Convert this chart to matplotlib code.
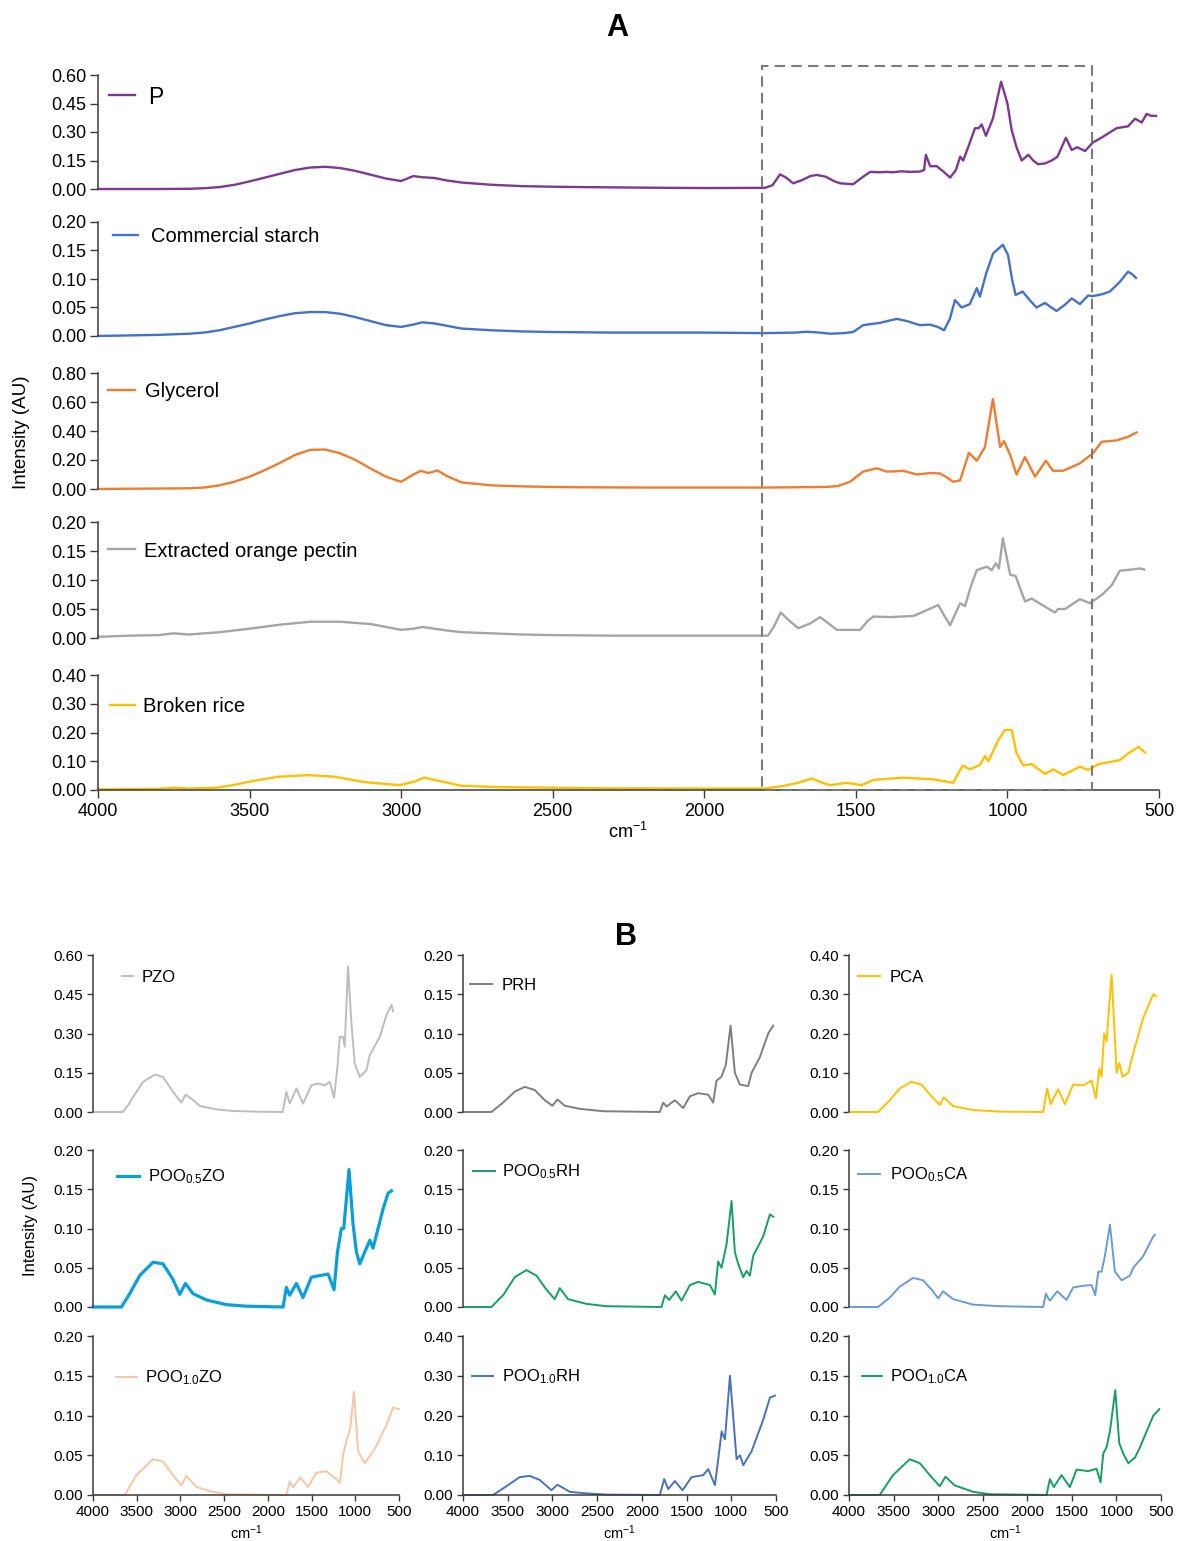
import matplotlib
matplotlib.use("Agg")
import matplotlib.pyplot as plt
from matplotlib.lines import Line2D
from matplotlib.patches import Rectangle
import numpy as np

plt.rcParams['font.family'] = ['Liberation Sans', 'DejaVu Sans']
plt.rcParams['mathtext.fontset'] = 'custom'
plt.rcParams['mathtext.rm'] = 'Liberation Sans'
plt.rcParams['mathtext.default'] = 'regular'

# ---------------- data: (wavenumber cm-1, intensity AU) ----------------
P = [(4000,0.0),(3900,0.0),(3800,0.0),(3700,0.001),(3650,0.004),(3600,0.01),(3550,0.022),(3500,0.04),
     (3450,0.06),(3400,0.08),(3350,0.1),(3300,0.113),(3250,0.117),(3200,0.11),(3150,0.095),(3100,0.075),
     (3050,0.055),(3000,0.042),(2960,0.068),(2930,0.062),(2890,0.058),(2850,0.045),(2800,0.034),(2700,0.022),
     (2600,0.015),(2500,0.012),(2400,0.01),(2200,0.007),(2000,0.005),(1800,0.006),(1775,0.02),(1750,0.077),
     (1730,0.06),(1707,0.03),(1680,0.045),(1650,0.068),(1629,0.074),(1600,0.065),(1570,0.04),(1552,0.03),
     (1509,0.025),(1480,0.06),(1453,0.09),(1420,0.088),(1400,0.09),(1378,0.088),(1350,0.093),(1320,0.09),
     (1289,0.092),(1275,0.1),(1269,0.18),(1255,0.12),(1233,0.12),(1210,0.09),(1189,0.06),(1170,0.1),
     (1156,0.17),(1146,0.15),(1125,0.24),(1107,0.32),(1095,0.32),(1085,0.34),(1071,0.28),(1048,0.37),
     (1021,0.565),(1000,0.45),(986,0.31),(970,0.22),(953,0.15),(931,0.18),(915,0.15),(899,0.13),(875,0.135),
     (854,0.15),(835,0.17),(807,0.27),(788,0.205),(770,0.22),(744,0.2),(718,0.245),(690,0.27),(660,0.3),
     (640,0.32),(602,0.33),(579,0.37),(557,0.35),(541,0.395),(525,0.385),(510,0.385)]
STARCH = [(4000,0.0),(3900,0.001),(3800,0.002),(3700,0.004),(3650,0.006),(3600,0.01),(3550,0.016),(3500,0.022),
     (3450,0.029),(3400,0.035),(3350,0.04),(3300,0.042),(3250,0.042),(3200,0.039),(3150,0.033),(3100,0.026),
     (3050,0.019),(3000,0.016),(2960,0.02),(2930,0.024),(2890,0.022),(2850,0.018),(2800,0.013),(2700,0.01),
     (2600,0.008),(2500,0.007),(2300,0.006),(2000,0.006),(1800,0.005),(1700,0.006),(1662,0.0075),(1620,0.006),
     (1585,0.004),(1540,0.005),(1509,0.007),(1476,0.019),(1450,0.021),(1420,0.023),(1390,0.027),(1365,0.03),
     (1330,0.026),(1289,0.019),(1255,0.02),(1230,0.016),(1209,0.01),(1190,0.03),(1173,0.063),(1151,0.05),
     (1124,0.056),(1101,0.084),(1091,0.069),(1070,0.11),(1047,0.145),(1015,0.16),(998,0.142),(985,0.1),
     (973,0.072),(950,0.078),(925,0.062),(904,0.05),(876,0.058),(855,0.05),(838,0.044),(810,0.055),(788,0.066),
     (761,0.056),(734,0.071),(718,0.07),(690,0.073),(662,0.078),(629,0.095),(602,0.113),(588,0.108),(576,0.102)]
GLYCEROL = [(4000,0.0),(3900,0.002),(3800,0.003),(3700,0.005),(3650,0.01),(3600,0.025),(3550,0.05),(3500,0.085),
     (3450,0.13),(3400,0.18),(3350,0.235),(3300,0.27),(3250,0.272),(3200,0.245),(3150,0.2),(3100,0.14),
     (3050,0.085),(3000,0.05),(2960,0.1),(2935,0.125),(2910,0.11),(2880,0.128),(2850,0.09),(2800,0.045),
     (2700,0.025),(2600,0.018),(2500,0.014),(2400,0.012),(2200,0.01),(1800,0.01),(1600,0.014),(1560,0.02),
     (1519,0.05),(1476,0.12),(1431,0.143),(1398,0.12),(1370,0.122),(1344,0.126),(1299,0.1),(1255,0.11),
     (1222,0.107),(1200,0.08),(1179,0.05),(1156,0.06),(1127,0.25),(1101,0.195),(1074,0.29),(1048,0.62),
     (1024,0.29),(1011,0.33),(991,0.235),(970,0.1),(942,0.22),(909,0.085),(873,0.195),(850,0.126),(816,0.126),
     (761,0.177),(718,0.246),(689,0.326),(640,0.335),(602,0.36),(574,0.39)]
PECTIN = [(4000,0.002),(3900,0.004),(3800,0.005),(3750,0.008),(3700,0.006),(3600,0.01),(3500,0.016),(3400,0.023),
     (3300,0.028),(3200,0.028),(3100,0.024),(3000,0.014),(2960,0.016),(2930,0.019),(2890,0.016),(2850,0.013),
     (2800,0.01),(2700,0.008),(2600,0.006),(2500,0.005),(2300,0.004),(2000,0.004),(1790,0.004),(1770,0.02),
     (1748,0.044),(1720,0.03),(1690,0.017),(1651,0.025),(1618,0.036),(1590,0.025),(1563,0.014),(1486,0.014),
     (1460,0.03),(1442,0.037),(1387,0.036),(1310,0.038),(1266,0.048),(1228,0.057),(1210,0.04),(1189,0.022),
     (1156,0.06),(1140,0.055),(1120,0.09),(1101,0.117),(1068,0.123),(1052,0.117),(1038,0.129),(1028,0.12),
     (1015,0.172),(991,0.109),(973,0.107),(942,0.063),(920,0.068),(876,0.054),(843,0.044),(833,0.05),(810,0.05),
     (761,0.067),(728,0.06),(689,0.074),(656,0.091),(629,0.116),(590,0.118),(563,0.12),(549,0.118)]
RICE = [(4000,0.002),(3900,0.003),(3800,0.004),(3746,0.008),(3700,0.005),(3608,0.008),(3550,0.018),(3495,0.03),
     (3407,0.046),(3307,0.052),(3219,0.046),(3118,0.027),(3005,0.017),(2960,0.028),(2923,0.043),(2890,0.035),
     (2854,0.027),(2804,0.015),(2678,0.01),(2500,0.008),(2351,0.006),(2000,0.005),(1800,0.005),(1740,0.014),
     (1690,0.025),(1646,0.04),(1610,0.025),(1585,0.017),(1530,0.025),(1481,0.017),(1442,0.035),(1344,0.043),
     (1244,0.037),(1179,0.025),(1148,0.085),(1124,0.072),(1091,0.087),(1074,0.118),(1063,0.1),(1030,0.174),
     (1008,0.209),(986,0.209),(970,0.128),(948,0.085),(920,0.09),(876,0.056),(849,0.072),(816,0.052),
     (761,0.081),(733,0.07),(700,0.09),(629,0.104),(601,0.128),(568,0.15),(546,0.13)]

PZO = [(4000,0.0),(3660,0.0),(3600,0.025),(3542,0.057),(3428,0.115),(3294,0.143),(3199,0.134),(3085,0.077),
     (2989,0.036),(2940,0.066),(2874,0.051),(2779,0.023),(2588,0.01),(2398,0.004),(2100,0.001),(1830,0.0),
     (1788,0.077),(1750,0.032),(1673,0.09),(1598,0.032),(1502,0.102),(1426,0.109),(1349,0.102),(1292,0.115),
     (1243,0.055),(1204,0.172),(1178,0.287),(1140,0.287),(1121,0.25),(1083,0.556),(1044,0.338),(1006,0.185),
     (949,0.134),(872,0.16),(834,0.217),(720,0.287),(644,0.37),(586,0.409),(568,0.385)]
PRH = [(4000,0.0),(3682,0.0),(3552,0.012),(3421,0.026),(3310,0.032),(3198,0.028),(3086,0.015),(3000,0.008),
     (2944,0.016),(2862,0.008),(2694,0.004),(2434,0.001),(1799,0.0),(1762,0.012),(1724,0.007),(1631,0.015),
     (1538,0.005),(1463,0.02),(1370,0.024),(1258,0.022),(1203,0.012),(1165,0.04),(1109,0.045),(1061,0.06),
     (1008,0.11),(960,0.05),(904,0.035),(811,0.033),(773,0.05),(680,0.07),(587,0.1),(531,0.11)]
PCA = [(4000,0.0),(3674,0.0),(3543,0.03),(3431,0.06),(3300,0.077),(3188,0.07),(3075,0.04),(2982,0.018),
     (2937,0.037),(2832,0.015),(2608,0.005),(2308,0.001),(1822,0.0),(1777,0.06),(1739,0.02),(1653,0.058),
     (1578,0.02),(1485,0.07),(1372,0.068),(1279,0.08),(1230,0.035),(1193,0.11),(1167,0.09),(1137,0.2),
     (1111,0.18),(1054,0.35),(998,0.1),(968,0.125),(931,0.09),(867,0.1),(811,0.15),(699,0.24),(624,0.28),
     (586,0.3),(556,0.295)]
POO05ZO = [(4000,0.0),(3675,0.0),(3580,0.017),(3466,0.04),(3313,0.057),(3199,0.055),(3085,0.035),(3008,0.016),
     (2943,0.03),(2856,0.017),(2703,0.009),(2474,0.003),(2245,0.001),(1826,0.0),(1788,0.025),(1750,0.015),
     (1673,0.03),(1598,0.012),(1502,0.038),(1407,0.04),(1311,0.042),(1243,0.022),(1204,0.07),(1159,0.1),
     (1132,0.1),(1072,0.175),(1026,0.106),(987,0.07),(949,0.055),(834,0.085),(797,0.075),(682,0.125),
     (625,0.145),(586,0.148)]
POO05RH = [(4000,0.0),(3682,0.0),(3552,0.015),(3421,0.038),(3291,0.047),(3179,0.04),(3067,0.022),(2974,0.01),
     (2918,0.024),(2825,0.01),(2620,0.004),(2396,0.001),(1780,0.0),(1743,0.015),(1695,0.009),(1620,0.02),
     (1556,0.008),(1463,0.028),(1370,0.032),(1239,0.028),(1183,0.016),(1147,0.058),(1109,0.05),(1053,0.08),
     (997,0.135),(960,0.07),(923,0.055),(867,0.038),(829,0.046),(792,0.04),(755,0.065),(643,0.09),(568,0.118),
     (530,0.115)]
POO05CA = [(4000,0.0),(3674,0.0),(3543,0.012),(3431,0.026),(3281,0.037),(3169,0.034),(3057,0.02),(3001,0.011),
     (2944,0.02),(2832,0.01),(2608,0.003),(2308,0.001),(1822,0.0),(1792,0.017),(1747,0.008),(1664,0.02),
     (1560,0.009),(1485,0.025),(1372,0.027),(1279,0.028),(1238,0.015),(1204,0.045),(1167,0.045),(1129,0.065),
     (1073,0.105),(1017,0.045),(942,0.034),(848,0.04),(811,0.05),(699,0.065),(586,0.09),(568,0.092)]
POO10ZO = [(4000,0.0),(3637,0.0),(3504,0.025),(3313,0.045),(3199,0.042),(3085,0.025),(2989,0.012),(2932,0.024),
     (2817,0.01),(2665,0.005),(2474,0.001),(1788,0.0),(1750,0.017),(1712,0.01),(1628,0.022),(1541,0.01),
     (1445,0.028),(1330,0.03),(1216,0.02),(1178,0.015),(1140,0.05),(1102,0.068),(1056,0.085),(1015,0.13),
     (968,0.055),(892,0.04),(777,0.058),(644,0.088),(568,0.11),(500,0.108)]
POO10RH = [(4000,0.0),(3664,0.0),(3515,0.022),(3366,0.045),(3254,0.048),(3142,0.038),(3011,0.012),(2944,0.026),
     (2806,0.008),(2620,0.004),(2396,0.001),(1799,0.0),(1750,0.04),(1705,0.015),(1631,0.035),(1545,0.012),
     (1444,0.045),(1314,0.05),(1258,0.065),(1183,0.025),(1146,0.09),(1108,0.16),(1071,0.14),(1015,0.3),
     (941,0.09),(903,0.1),(866,0.075),(773,0.11),(642,0.19),(568,0.245),(512,0.25)]
POO10CA = [(4000,0.0),(3656,0.0),(3506,0.025),(3319,0.045),(3206,0.04),(3094,0.025),(2982,0.011),(2918,0.023),
     (2813,0.012),(2608,0.004),(2420,0.001),(1784,0.0),(1747,0.02),(1702,0.01),(1616,0.025),(1522,0.01),
     (1447,0.032),(1316,0.03),(1223,0.033),(1178,0.016),(1148,0.052),(1111,0.06),(1073,0.08),(1013,0.132),
     (968,0.065),(923,0.052),(867,0.04),(792,0.047),(736,0.06),(586,0.1),(519,0.108)]

A_SERIES = [P, STARCH, GLYCEROL, PECTIN, RICE]
A_LABELS = ['P', 'Commercial starch', 'Glycerol', 'Extracted orange pectin', 'Broken rice']
A_COLORS = ['#7B3A8E', '#4472C4', '#ED7D31', '#A5A5A5', '#FFC000']
A_YMAX = [0.60, 0.20, 0.80, 0.20, 0.40]
A_YSTEP = [0.15, 0.05, 0.20, 0.05, 0.10]

B_SERIES = [[PZO, PRH, PCA], [POO05ZO, POO05RH, POO05CA], [POO10ZO, POO10RH, POO10CA]]
B_LABELS = [['PZO', 'PRH', 'PCA'],
            ['POO$_{0.5}$ZO', 'POO$_{0.5}$RH', 'POO$_{0.5}$CA'],
            ['POO$_{1.0}$ZO', 'POO$_{1.0}$RH', 'POO$_{1.0}$CA']]
B_COLORS = [['#BDBDBD', '#7F7F7F', '#FFC000'],
            ['#0A9FD8', '#179E63', '#6B9BD1'],
            ['#F7C6A5', '#4A72B8', '#179E63']]
B_YMAX = [[0.60, 0.20, 0.40], [0.20, 0.20, 0.20], [0.20, 0.40, 0.20]]
B_YSTEP = [[0.15, 0.05, 0.10], [0.05, 0.05, 0.05], [0.05, 0.10, 0.05]]
X_TICKS = [4000, 3500, 3000, 2500, 2000, 1500, 1000, 500]

# ---------------- layout ----------------
W, H = 1177, 1541
fig = plt.figure(figsize=(W / 100, H / 100), dpi=100)
SPINE = '#3a3a3a'


def box(x0, y0, x1, y1):
    return [x0 / W, 1 - y1 / H, (x1 - x0) / W, (y1 - y0) / H]


def style(ax, ymax, ystep, show_x, fs, tlen):
    ax.set_xlim(4000, 500)
    ax.set_ylim(0, ymax)
    ticks = np.round(np.arange(0, ymax + ystep / 2, ystep), 2)
    ax.set_yticks(ticks)
    ax.set_yticklabels([f'{t:.2f}' for t in ticks], fontsize=fs)
    for s in ['top', 'right']:
        ax.spines[s].set_visible(False)
    ax.spines['left'].set_color(SPINE)
    ax.spines['left'].set_linewidth(1.1)
    ax.tick_params(axis='y', direction='out', length=tlen, width=1.0, color=SPINE, pad=2.5)
    if show_x:
        ax.spines['bottom'].set_color(SPINE)
        ax.spines['bottom'].set_linewidth(1.1)
        ax.set_xticks(X_TICKS)
        ax.set_xticklabels([str(t) for t in X_TICKS], fontsize=fs)
        ax.tick_params(axis='x', direction='out', length=tlen, width=1.0, color=SPINE, pad=3)
    else:
        ax.spines['bottom'].set_visible(False)
        ax.tick_params(axis='x', bottom=False, labelbottom=False)
    ax.patch.set_alpha(0)


def legend(ax, color, label, lw, x_line0, x_line1, x_text, y, fs):
    fpx = fs * 100 / 72
    ax.legend(handles=[Line2D([], [], color=color, lw=lw)], labels=[label],
              loc='center left', bbox_to_anchor=(x_line0 / W, 1 - y / H),
              bbox_transform=fig.transFigure, frameon=False, fontsize=fs,
              handlelength=(x_line1 - x_line0) / fpx,
              handletextpad=(x_text - x_line1) / fpx,
              borderpad=0, borderaxespad=0)


# ---------------- panel A ----------------
A_ROWS = [(75, 189), (222, 336), (373, 489), (522, 638), (675, 790)]
A_LEG = [(109, 135, 148, 97, 16.5), (113, 138, 151, 237, 14.5), (108, 135, 145, 392, 14.5),
         (108, 135, 144, 551, 14.5), (110, 135, 143, 707, 14.5)]
for i, (top, bot) in enumerate(A_ROWS):
    ax = fig.add_axes(box(98, top, 1159, bot))
    wn, val = zip(*A_SERIES[i])
    ax.plot(wn, val, color=A_COLORS[i], lw=1.7, clip_on=False, solid_joinstyle='round')
    style(ax, A_YMAX[i], A_YSTEP[i], i == 4, 13, 6)
    x0, x1, xt, yl, fs = A_LEG[i]
    legend(ax, A_COLORS[i], A_LABELS[i], 1.7, x0, x1, xt, yl, fs)

# dashed highlight box spanning the fingerprint region
ov = fig.add_axes(box(98, 66, 1159, 790))
ov.set_xlim(4000, 500)
ov.set_ylim(0, 1)
ov.axis('off')
ov.add_patch(Rectangle((720, 0), 1810 - 720, 1, fill=False, ec='#7a7a7a', lw=1.5,
                       ls=(0, (5, 3)), clip_on=False))

fig.text(617 / W, 1 - 28 / H, 'A', fontsize=22, fontweight='bold', ha='center', va='center')
fig.text(628 / W, 1 - 832 / H, 'cm$^{-1}$', fontsize=13, ha='center', va='center')
fig.text(22 / W, 1 - 432 / H, 'Intensity (AU)', fontsize=13.5, rotation=90, ha='center', va='center')

# ---------------- panel B ----------------
B_COLS = [(93, 399), (463, 776), (849, 1161)]
B_ROWS = [(955, 1112), (1150, 1307), (1336, 1495)]
B_LEG = [[(122, 133, 142, 977), (470, 492, 502, 985), (858, 880, 890, 977)],
         [(117, 139, 148, 1177), (473, 495, 502, 1172), (858, 880, 890, 1175)],
         [(116, 137, 145, 1378), (472, 493, 502, 1377), (862, 882, 890, 1377)]]
for r, (top, bot) in enumerate(B_ROWS):
    for c, (left, right) in enumerate(B_COLS):
        ax = fig.add_axes(box(left, top, right, bot))
        wn, val = zip(*B_SERIES[r][c])
        lw = 2.3 if (r == 1 and c == 0) else 1.4
        ax.plot(wn, val, color=B_COLORS[r][c], lw=lw, clip_on=False, solid_joinstyle='round')
        style(ax, B_YMAX[r][c], B_YSTEP[r][c], r == 2, 11, 4.5)
        x0, x1, xt, yl = B_LEG[r][c]
        legend(ax, B_COLORS[r][c], B_LABELS[r][c], lw, x0, x1, xt, yl, 12)
        if r == 2:
            fig.text((left + right) / 2 / W, 1 - 1533 / H, 'cm$^{-1}$', fontsize=10.5,
                     ha='center', va='center')

fig.text(626 / W, 1 - 937 / H, 'B', fontsize=22, fontweight='bold', ha='center', va='center')
fig.text(30 / W, 1 - 1226 / H, 'Intensity (AU)', fontsize=12, rotation=90, ha='center', va='center')

fig.savefig('out.png', dpi=100)
